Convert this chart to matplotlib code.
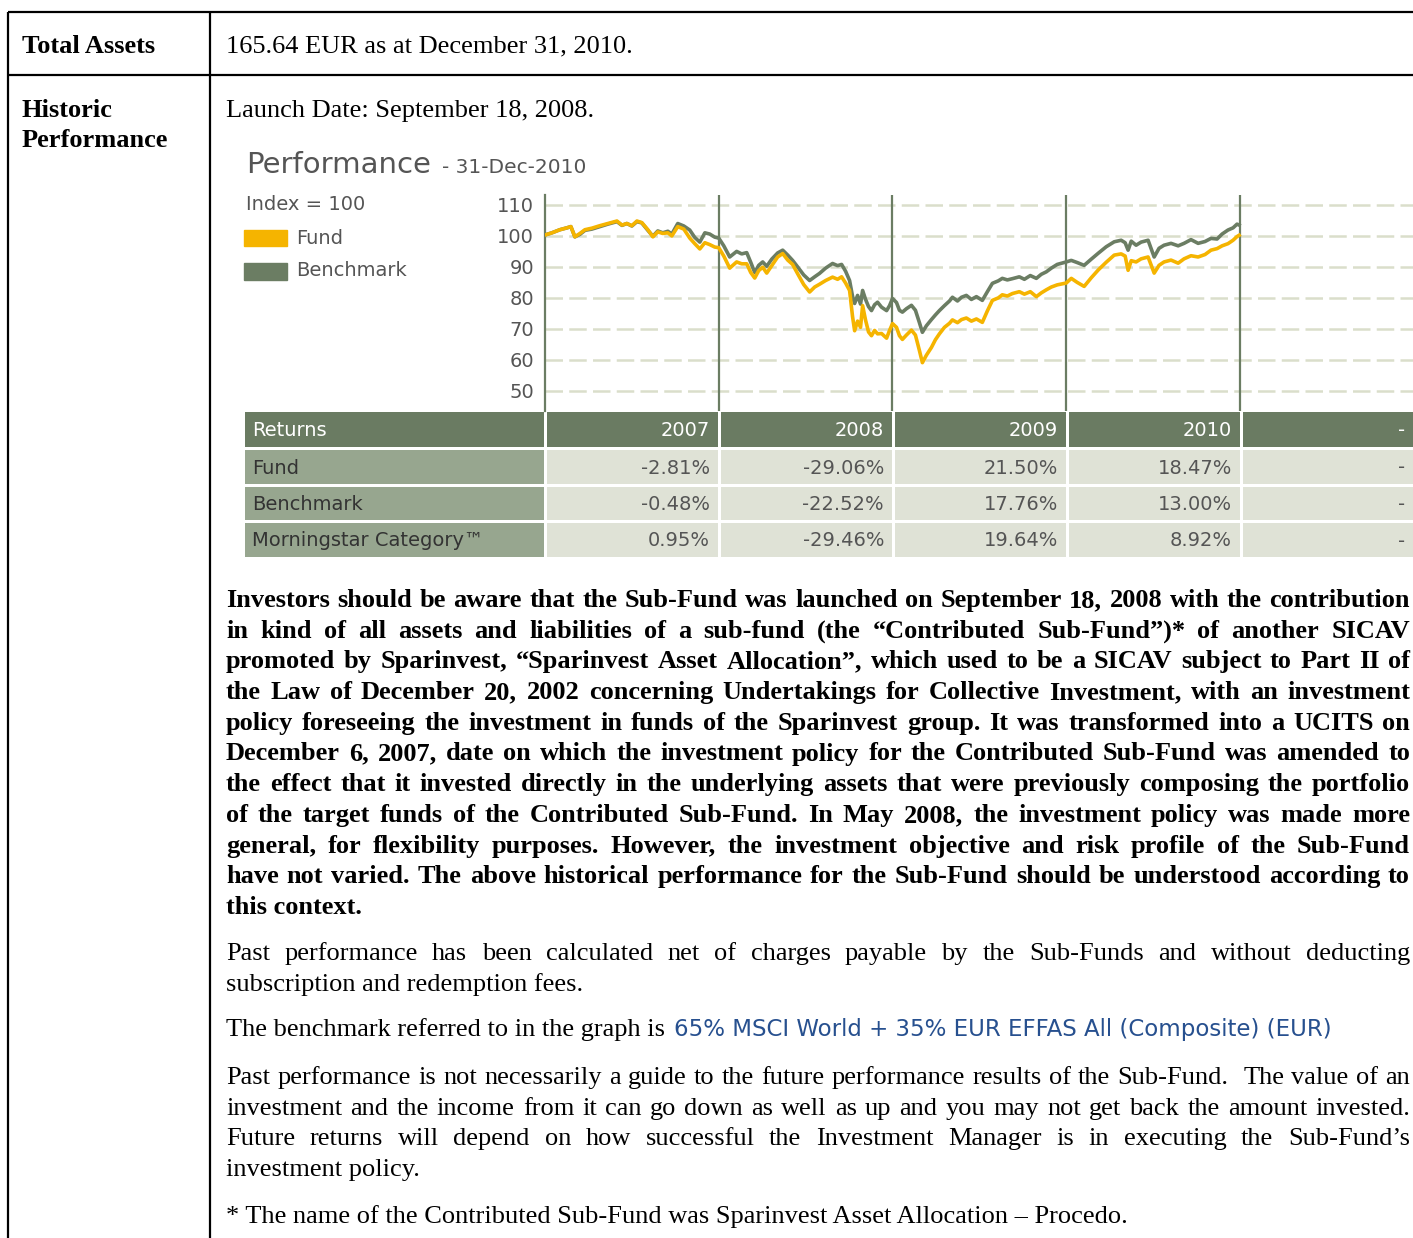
import matplotlib
matplotlib.use("Agg")
import matplotlib.pyplot as plt
from matplotlib.patches import Rectangle

# -- data --
years = [2007.000, 2007.040, 2007.086, 2007.126, 2007.149, 2007.172, 2007.201, 2007.230, 2007.270,
         2007.316, 2007.362, 2007.414, 2007.443, 2007.471, 2007.500, 2007.529, 2007.557, 2007.592,
         2007.621, 2007.649, 2007.678, 2007.707, 2007.730, 2007.764, 2007.799, 2007.833, 2007.862,
         2007.891, 2007.920, 2007.948, 2007.977, 2008.000, 2008.029, 2008.063, 2008.103, 2008.132,
         2008.161, 2008.184, 2008.207, 2008.230, 2008.253, 2008.276, 2008.305, 2008.339, 2008.368,
         2008.397, 2008.425, 2008.454, 2008.489, 2008.523, 2008.552, 2008.580, 2008.615, 2008.655,
         2008.684, 2008.707, 2008.730, 2008.753, 2008.770, 2008.782, 2008.799, 2008.816, 2008.828,
         2008.845, 2008.862, 2008.879, 2008.897, 2008.914, 2008.937, 2008.966, 2008.983, 2009.000,
         2009.023, 2009.040, 2009.057, 2009.080, 2009.109, 2009.132, 2009.155, 2009.172, 2009.195,
         2009.224, 2009.247, 2009.270, 2009.299, 2009.328, 2009.345, 2009.374, 2009.397, 2009.425,
         2009.454, 2009.483, 2009.517, 2009.546, 2009.575, 2009.609, 2009.632, 2009.661, 2009.690,
         2009.730, 2009.759, 2009.793, 2009.828, 2009.856, 2009.885, 2009.914, 2009.948, 2010.000,
         2010.029, 2010.063, 2010.103, 2010.144, 2010.184, 2010.230, 2010.276, 2010.316, 2010.339,
         2010.356, 2010.374, 2010.402, 2010.431, 2010.471, 2010.506, 2010.534, 2010.563, 2010.603,
         2010.644, 2010.678, 2010.718, 2010.759, 2010.799, 2010.833, 2010.868, 2010.897, 2010.931,
         2010.960, 2010.983, 2010.995]
benchmark = [100.3, 101.0, 102.0, 102.6, 103.0, 99.7, 100.5, 101.8, 102.2,
             103.0, 103.8, 104.6, 103.4, 104.0, 103.2, 104.6, 104.2, 101.8,
             99.9, 101.6, 101.0, 101.5, 100.6, 104.0, 103.2, 101.9, 99.5,
             98.0, 101.0, 100.6, 99.6, 99.3, 96.8, 93.2, 95.0, 94.2,
             94.6, 91.5, 88.2, 90.5, 91.6, 90.2, 92.5, 94.5, 95.4,
             93.8, 92.1, 90.0, 87.4, 85.6, 86.8, 87.9, 89.6, 91.1,
             90.4, 90.8, 88.6, 85.6, 80.5, 78.2, 80.8, 78.0, 82.4,
             79.5, 77.2, 75.9, 77.8, 78.6, 77.0, 75.9, 77.5, 79.8,
             78.5, 76.0, 75.4, 76.5, 77.6, 76.0, 72.0, 68.9, 71.0,
             73.0, 74.5, 75.9, 77.5, 79.0, 80.2, 79.0, 80.2, 80.8,
             79.5, 80.4, 79.2, 82.0, 84.7, 85.5, 86.3, 85.8, 86.2,
             86.8, 86.0, 87.2, 86.3, 87.6, 88.4, 89.6, 90.8, 91.6,
             92.1, 91.4, 90.5, 92.5, 94.4, 96.5, 98.1, 98.6, 97.8,
             95.4, 98.3, 97.0, 98.0, 98.6, 93.2, 96.0, 97.0, 97.6,
             96.8, 97.6, 98.8, 97.6, 98.2, 99.2, 99.0, 100.6, 101.9,
             102.6, 103.8, 103.5]
fund = [100.3, 101.0, 102.0, 102.6, 103.0, 99.7, 100.8, 102.0, 102.5,
        103.3, 104.0, 104.8, 103.5, 104.0, 103.3, 104.8, 104.3, 102.0,
        99.7, 101.3, 100.8, 101.0, 100.0, 103.0, 102.2, 99.3, 97.5,
        95.8, 97.8, 97.2, 96.4, 96.2, 93.5, 89.6, 91.6, 91.0,
        91.0, 88.2, 86.4, 88.8, 89.9, 88.0, 90.4, 93.2, 94.3,
        92.2, 90.8, 87.8, 84.3, 81.9, 83.5, 84.4, 85.6, 86.7,
        86.0, 86.8, 84.8, 82.4, 74.0, 69.4, 72.5, 70.5, 77.5,
        72.8, 69.0, 67.8, 69.5, 68.4, 68.5, 67.0, 69.5, 71.7,
        70.5, 67.8, 66.6, 68.0, 69.6, 68.0, 63.0, 59.1, 61.5,
        64.0, 66.5, 68.4, 70.5, 71.8, 72.9, 72.0, 73.0, 73.5,
        72.5, 73.2, 72.1, 75.8, 79.2, 80.0, 81.0, 80.6, 81.4,
        82.0, 81.2, 82.0, 80.4, 81.6, 82.6, 83.5, 84.2, 84.8,
        86.3, 85.0, 83.7, 86.5, 89.0, 91.5, 93.8, 94.2, 93.5,
        88.9, 92.0, 91.6, 92.6, 93.2, 88.0, 90.5, 91.6, 92.2,
        91.2, 92.6, 93.6, 93.2, 94.0, 95.4, 95.9, 96.8, 97.5,
        98.6, 99.8, 100.2]

yticks = [50, 60, 70, 80, 90, 100, 110]
return_years = ["2007", "2008", "2009", "2010", "-"]
row_names = ["Fund", "Benchmark", "Morningstar Category\u2122"]
fund_returns = ["-2.81%", "-29.06%", "21.50%", "18.47%", "-"]
bench_returns = ["-0.48%", "-22.52%", "17.76%", "13.00%", "-"]
category_returns = ["0.95%", "-29.46%", "19.64%", "8.92%", "-"]

bold_lines = [
    "Investors should be aware that the Sub-Fund was launched on September 18, 2008 with the contribution",
    "in kind of all assets and liabilities of a sub-fund (the \u201cContributed Sub-Fund\u201d)* of another SICAV",
    "promoted by Sparinvest, \u201cSparinvest Asset Allocation\u201d, which used to be a SICAV subject to Part II of",
    "the Law of December 20, 2002 concerning Undertakings for Collective Investment, with an investment",
    "policy foreseeing the investment in funds of the Sparinvest group. It was transformed into a UCITS on",
    "December 6, 2007, date on which the investment policy for the Contributed Sub-Fund was amended to",
    "the effect that it invested directly in the underlying assets that were previously composing the portfolio",
    "of the target funds of the Contributed Sub-Fund. In May 2008, the investment policy was made more",
    "general, for flexibility purposes. However, the investment objective and risk profile of the Sub-Fund",
    "have not varied. The above historical performance for the Sub-Fund should be understood according to",
    "this context.",
]
charges_lines = [
    "Past performance has been calculated net of charges payable by the Sub-Funds and without deducting",
    "subscription and redemption fees.",
]
guide_lines = [
    "Past performance is not necessarily a guide to the future performance results of the Sub-Fund.  The value of an",
    "investment and the income from it can go down as well as up and you may not get back the amount invested.",
    "Future returns will depend on how successful the Investment Manager is in executing the Sub-Fund\u2019s",
    "investment policy.",
]

FUND_C = "#F5B400"
BENCH_C = "#6B7D63"
GRID_C = "#DADECB"
TEXT_C = "#555555"
SERIF = "Liberation Serif"
SANS = "DejaVu Sans"

W, H = 1413, 1238
fig = plt.figure(figsize=(W / 100, H / 100), dpi=100)
doc = fig.add_axes([0, 0, 1, 1])
doc.set_xlim(0, W)
doc.set_ylim(H, 0)
doc.axis("off")
renderer = fig.canvas.get_renderer()

# document frame
for xs, ys in [([8, W], [12, 12]), ([8, W], [75, 75]), ([8, 8], [12, H]), ([210, 210], [12, H])]:
    doc.plot(xs, ys, color="black", lw=1.6, solid_capstyle="butt")

serif_kw = dict(family=SERIF, fontsize=19, color="black", va="baseline")
doc.text(22, 53, "Total Assets", fontweight="bold", **serif_kw)
doc.text(22, 117, "Historic", fontweight="bold", **serif_kw)
doc.text(22, 147, "Performance", fontweight="bold", **serif_kw)
doc.text(226, 52, "165.64 EUR as at December 31, 2010.", **serif_kw)
doc.text(226, 117, "Launch Date: September 18, 2008.", **serif_kw)


def justified(line, y, weight="normal", x0=226, x1=1410, last=False):
    words = line.split(" ")
    if last or len(words) == 1:
        doc.text(x0, y, line, fontweight=weight, **serif_kw)
        return
    texts = [doc.text(0, y, w, fontweight=weight, **serif_kw) for w in words]
    widths = [t.get_window_extent(renderer).width for t in texts]
    gap = (x1 - x0 - sum(widths)) / (len(words) - 1)
    x = x0
    for t, w in zip(texts, widths):
        t.set_x(x)
        x += w + gap


for i, line in enumerate(bold_lines):
    justified(line, 607 + i * 30.7, "bold", last=(i == len(bold_lines) - 1))
for i, line in enumerate(charges_lines):
    justified(line, 960 + i * 31, last=(i == len(charges_lines) - 1))
t = doc.text(226, 1036, "The benchmark referred to in the graph is ", **serif_kw)
bx = t.get_window_extent(renderer).x1
doc.text(bx + 2, 1036, "65% MSCI World + 35% EUR EFFAS All (Composite) (EUR)",
         family=SANS, fontsize=16.5, color="#27508F", va="baseline")
for i, line in enumerate(guide_lines):
    justified(line, 1084 + i * 30.7, last=(i == len(guide_lines) - 1))
doc.text(226, 1223, "* The name of the Contributed Sub-Fund was Sparinvest Asset Allocation \u2013 Procedo.", **serif_kw)

# chart heading and legend
doc.text(246, 173, "Performance", family=SANS, fontsize=21, color=TEXT_C, va="baseline")
doc.text(442, 173, "- 31-Dec-2010", family=SANS, fontsize=14.5, color=TEXT_C, va="baseline")
doc.text(246, 204, "Index = 100", family=SANS, fontsize=14, color=TEXT_C, va="center")
doc.add_patch(Rectangle((244, 230), 43, 16, color=FUND_C))
doc.add_patch(Rectangle((244, 263), 43, 17, color=BENCH_C))
doc.text(296, 238, "Fund", family=SANS, fontsize=14, color=TEXT_C, va="center")
doc.text(296, 271, "Benchmark", family=SANS, fontsize=14, color=TEXT_C, va="center")

# chart axes
left, right, top, bottom = 545, W, 195, 411
ax = fig.add_axes([left / W, 1 - bottom / H, (right - left) / W, (bottom - top) / H])
ax.set_xlim(2007, 2007 + (right - left) / 173.75)
ax.set_ylim(43.5, 113.2)
for v in yticks:
    ax.axhline(v, color=GRID_C, lw=1.8, dashes=(7, 2.5), zorder=1)
for yr in [2008, 2009, 2010, 2011]:
    ax.axvline(yr, color=BENCH_C, lw=1.6, zorder=2)
ax.plot(years, benchmark, color=BENCH_C, lw=2.6, zorder=3)
ax.plot(years, fund, color=FUND_C, lw=2.6, zorder=4)
for s in ["top", "right", "bottom"]:
    ax.spines[s].set_visible(False)
ax.spines["left"].set_color(BENCH_C)
ax.spines["left"].set_linewidth(1.6)
ax.set_xticks([])
ax.set_yticks(yticks)
ax.tick_params(axis="y", length=0, pad=8, labelsize=14, labelcolor=TEXT_C)
ax.patch.set_alpha(0)

# returns table
col_edges = [245, 545, 719, 893, 1067, 1241, W]
row_edges = [(412, 447), (450, 484), (487, 520), (523, 557)]
header = ["Returns"] + return_years
rows = [header,
        [row_names[0]] + fund_returns,
        [row_names[1]] + bench_returns,
        [row_names[2]] + category_returns]
for r, (y0, y1) in enumerate(row_edges):
    for c in range(len(col_edges) - 1):
        x0 = col_edges[c] + (0 if c == 0 else 2)
        x1 = col_edges[c + 1] - (0 if c == len(col_edges) - 2 else 1)
        if r == 0:
            fc, tc = "#6A7B62", "white"
        elif c == 0:
            fc, tc = "#97A68F", "#333333"
        else:
            fc, tc = "#DFE2D6", TEXT_C
        doc.add_patch(Rectangle((x0, y0), x1 - x0, y1 - y0, color=fc, lw=0))
        label = rows[r][c]
        yc = (y0 + y1) / 2 + 1
        if c == 0:
            doc.text(x0 + 7, yc, label, family=SANS, fontsize=14, color=tc, va="center")
        else:
            doc.text(x1 - 8, yc, label, family=SANS, fontsize=14, color=tc, va="center", ha="right")

fig.savefig("out.png", dpi=100)
